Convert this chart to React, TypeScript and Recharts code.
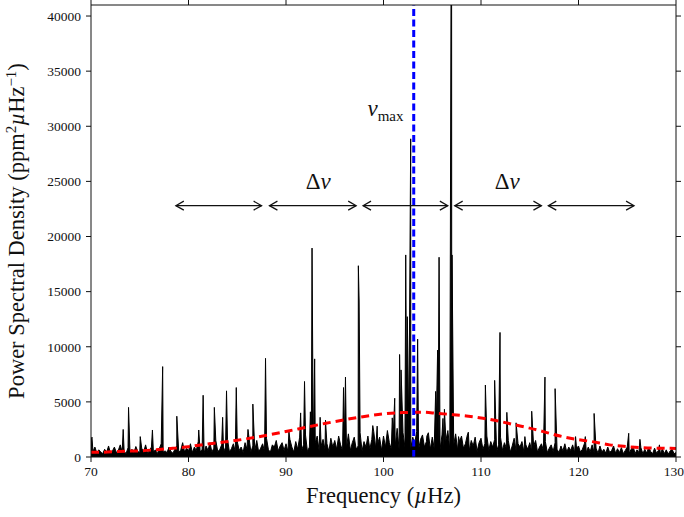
import { ComposedChart, Area, Line, XAxis, YAxis, ReferenceLine, ReferenceDot } from "recharts";

// frequency ticks (µHz) and power ticks (ppm^2/µHz)
const FREQ_TICKS = [70, 80, 90, 100, 110, 120, 130];
const PSD_TICKS = [0, 5000, 10000, 15000, 20000, 25000, 30000, 35000, 40000];

// noise floor, one value every 0.2 µHz starting at 70 µHz
const NOISE_START = 70;
const NOISE_STEP = 0.2;
const NOISE: number[] = [
  // 70 - 75
  1500, 500, 900, 350, 650, 450, 300, 700, 420, 1000, 350, 550, 900, 400, 600, 1100, 450, 500, 320, 850, 400, 700, 380, 950, 500,
  // 75 - 80
  400, 800, 450, 1100, 350, 600, 900, 450, 650, 300, 750, 1200, 450, 550, 400, 900, 500, 350, 700, 1000, 450, 600, 1300, 450, 800,
  // 80 - 85
  550, 1200, 400, 900, 600, 1400, 450, 700, 350, 1000, 600, 1300, 450, 800, 1500, 500, 650, 1100, 400, 900, 1600, 450, 750, 1200, 500,
  // 85 - 90
  1400, 600, 900, 400, 1300, 700, 1800, 450, 1000, 600, 1500, 450, 800, 1200, 500, 1700, 650, 450, 1100, 900, 1500, 550, 1000, 1300, 600,
  // 90 - 95
  1200, 500, 1600, 900, 450, 1400, 700, 1800, 600, 1100, 2000, 500, 900, 1500, 600, 1300, 1900, 550, 1000, 1600, 700, 1200, 500, 1700, 900,
  // 95 - 100
  1500, 700, 1900, 1100, 550, 1700, 800, 2100, 600, 1300, 1800, 700, 1000, 2200, 550, 1400, 900, 1900, 700, 1600, 2300, 800, 1200, 1800, 600,
  // 100 - 105
  1900, 900, 2400, 1300, 700, 2100, 1000, 2600, 700, 1700, 2200, 900, 1500, 2500, 800, 1800, 1200, 2300, 700, 1600, 2000, 900, 1400, 2200, 700,
  // 105 - 110
  1800, 800, 2300, 1200, 700, 2000, 1000, 1500, 2400, 700, 1700, 1100, 2100, 600, 1400, 1900, 800, 1200, 2000, 600, 1500, 1000, 1800, 500, 1300,
  // 110 - 115
  1700, 700, 1200, 1900, 600, 1400, 900, 1600, 500, 1100, 1800, 600, 1300, 800, 1500, 450, 1000, 1700, 550, 1200, 900, 1400, 450, 1100, 700,
  // 115 - 120
  1300, 550, 1000, 1500, 450, 900, 1200, 600, 1400, 400, 800, 1100, 500, 1300, 700, 400, 1000, 550, 1200, 450, 900, 600, 1100, 400, 800,
  // 120 - 125
  1000, 450, 700, 1200, 400, 900, 500, 1100, 400, 800, 350, 1000, 450, 700, 350, 900, 400, 600, 1000, 350, 750, 400, 850, 300, 600,
  // 125 - 130
  900, 350, 700, 1000, 300, 650, 400, 850, 300, 700, 350, 900, 500, 300, 800, 350, 600, 250, 750, 300, 650, 250, 550, 700, 300,
  400,
];

// individual peaks [frequency, power]
const PEAKS: [number, number][] = [
  [70.1, 1800], [73.3, 2500], [73.85, 4500], [75.05, 1850], [76.3, 2450], [77.35, 8200],
  [78.8, 3700], [81.05, 2450], [81.5, 5600], [82.65, 4500], [83.5, 3600], [83.9, 6000],
  [84.9, 6300], [86.1, 2500], [86.6, 4800], [87.9, 8950], [90.3, 2300], [91.5, 4000],
  [91.9, 6850], [92.5, 4100], [92.67, 18950], [92.94, 8900], [93.5, 3600], [94.05, 3350],
  [95.9, 6300], [96.1, 7250], [97.42, 17350], [97.5, 14150], [98.9, 2850], [99.35, 2800],
  [100.9, 3550], [101.15, 5330], [101.65, 9300], [101.8, 7900], [102.28, 18330], [102.44, 12730],
  [102.79, 28860], [103.5, 10700], [104.45, 1900], [105.35, 5950], [105.55, 9700], [105.7, 18120],
  [106.1, 3500], [106.25, 4330], [106.98, 60000], [107.03, 18330], [107.7, 1850], [108.7, 2250],
  [110.45, 6530], [111.4, 6950], [111.95, 11300], [112.65, 4050], [113.6, 3100], [114.5, 1850],
  [115.2, 4150], [116.56, 7250], [117.6, 6200], [119.7, 1850], [120.7, 1850], [121.6, 3950],
  [125.15, 2150], [126.3, 1600], [128.3, 1100],
];

// smooth envelope (red dashed) [frequency, power]
const ENVELOPE: [number, number][] = [
  [70, 420], [71.7, 450], [73.5, 520], [75.2, 570], [76.7, 660], [78.4, 790], [80, 935],
  [81.5, 1120], [83.1, 1300], [85, 1520], [87.9, 1950], [89.4, 2200], [91, 2500], [94.1, 3060],
  [97.5, 3600], [99.9, 3900], [102, 4030], [104, 4060], [105.5, 3960], [107, 3850], [108.5, 3720],
  [110.2, 3510], [112.1, 3200], [113.3, 2950], [114.85, 2650], [116.4, 2300], [118.1, 1900],
  [119.6, 1630], [121.35, 1400], [123.2, 1100], [124.9, 950], [126.65, 840], [129.05, 790], [130, 780],
];

const NU_MAX = 103.1;
const ARROW_Y = 22800;
// large separation arrows [start, end]
const DNU_ARROWS: [number, number][] = [
  [78.7, 87.5], [88.3, 97.2], [97.9, 106.6], [107.3, 116.2], [116.9, 125.7],
];
const DNU_LABELS = [93.3, 112.7];
const DNU_LABEL_Y = 24300;
const NUMAX_LABEL: [number, number] = [100.2, 30900];

const spectrum = [
  ...NOISE.map((p, i) => ({ f: +(NOISE_START + i * NOISE_STEP).toFixed(2), p })),
  ...PEAKS.map(([f, p]) => ({ f, p })),
].sort((a, b) => a.f - b.f);
const envelope = ENVELOPE.map(([f, m]) => ({ f, m }));

const SERIF = "'Liberation Serif', 'Times New Roman', serif";
const tickStyle = { fill: "#111", fontSize: 13.5, fontFamily: SERIF };

function Arrow(props: any) {
  const { x1, y1, x2 } = props;
  const h = 8;
  const w = 4.5;
  return (
    <g stroke="#111" strokeWidth={1.2} fill="none">
      <line x1={x1} y1={y1} x2={x2} y2={y1} />
      <polyline points={`${x1 + h},${y1 - w} ${x1},${y1} ${x1 + h},${y1 + w}`} />
      <polyline points={`${x2 - h},${y1 - w} ${x2},${y1} ${x2 - h},${y1 + w}`} />
    </g>
  );
}

function DnuText(props: any) {
  return (
    <text x={props.cx} y={props.cy} textAnchor="middle" fontFamily={SERIF} fontSize={23} fill="#111">
      Δ<tspan fontStyle="italic">ν</tspan>
    </text>
  );
}

function NuMaxText(props: any) {
  return (
    <text x={props.cx} y={props.cy} textAnchor="middle" fontFamily={SERIF} fontSize={23} fill="#111">
      <tspan fontStyle="italic">ν</tspan>
      <tspan fontSize={15} dy={5}>max</tspan>
    </text>
  );
}

function YTitle(props: any) {
  const vb = props.viewBox;
  const x = 24;
  const y = vb.y + vb.height / 2;
  return (
    <text
      x={x}
      y={y}
      transform={`rotate(-90, ${x}, ${y})`}
      textAnchor="middle"
      fontFamily={SERIF}
      fontSize={22.5}
      fill="#111"
    >
      Power Spectral Density (ppm
      <tspan fontSize={15} dy={-8}>2</tspan>
      <tspan fontStyle="italic" dy={8}>µ</tspan>
      Hz
      <tspan fontSize={15} dy={-8}>−1</tspan>
      <tspan dy={8}>)</tspan>
    </text>
  );
}

function XTitle(props: any) {
  const vb = props.viewBox;
  return (
    <text x={vb.x + vb.width / 2} y={503} textAnchor="middle" fontFamily={SERIF} fontSize={22.5} fill="#111">
      Frequency (<tspan fontStyle="italic">µ</tspan>Hz)
    </text>
  );
}

export default function App() {
  return (
    <div style={{ position: "absolute", left: 0, top: 0, width: 684, height: 517, background: "#fff" }}>
      <ComposedChart width={684} height={517} data={spectrum} margin={{ top: 0, right: 0, bottom: 0, left: 31 }}>
        <XAxis
          dataKey="f"
          type="number"
          domain={[70, 130]}
          ticks={FREQ_TICKS}
          allowDataOverflow
          height={60}
          tickSize={5}
          tickMargin={4}
          tick={tickStyle}
          stroke="#111"
          label={XTitle}
        />
        <XAxis
          xAxisId="top"
          orientation="top"
          dataKey="f"
          type="number"
          domain={[70, 130]}
          ticks={FREQ_TICKS}
          allowDataOverflow
          height={5}
          tickSize={5}
          tickFormatter={() => ""}
          stroke="#111"
        />
        <YAxis
          type="number"
          domain={[0, 41000]}
          ticks={PSD_TICKS}
          allowDataOverflow
          width={60}
          tickSize={5}
          tickMargin={5}
          tick={tickStyle}
          stroke="#111"
          label={YTitle}
        />
        <YAxis
          yAxisId="right"
          orientation="right"
          type="number"
          domain={[0, 41000]}
          ticks={PSD_TICKS}
          allowDataOverflow
          width={8}
          tickSize={5}
          tickFormatter={() => ""}
          stroke="#111"
        />
        <Area
          dataKey="p"
          type="linear"
          stroke="#000"
          strokeWidth={1}
          fill="#000"
          fillOpacity={1}
          dot={false}
          activeDot={false}
          isAnimationActive={false}
        />
        <Line
          data={envelope}
          dataKey="m"
          type="monotone"
          stroke="#ff0000"
          strokeWidth={3}
          strokeDasharray="8 5"
          dot={false}
          activeDot={false}
          isAnimationActive={false}
        />
        <ReferenceLine x={NU_MAX} stroke="#0000ff" strokeWidth={3} strokeDasharray="7 3.5" />
        {DNU_ARROWS.map(([a, b], i) => (
          <ReferenceLine
            key={i}
            segment={[
              { x: a, y: ARROW_Y },
              { x: b, y: ARROW_Y },
            ]}
            shape={Arrow}
          />
        ))}
        {DNU_LABELS.map((f, i) => (
          <ReferenceDot key={i} x={f} y={DNU_LABEL_Y} r={0} shape={DnuText} />
        ))}
        <ReferenceDot x={NUMAX_LABEL[0]} y={NUMAX_LABEL[1]} r={0} shape={NuMaxText} />
      </ComposedChart>
    </div>
  );
}
